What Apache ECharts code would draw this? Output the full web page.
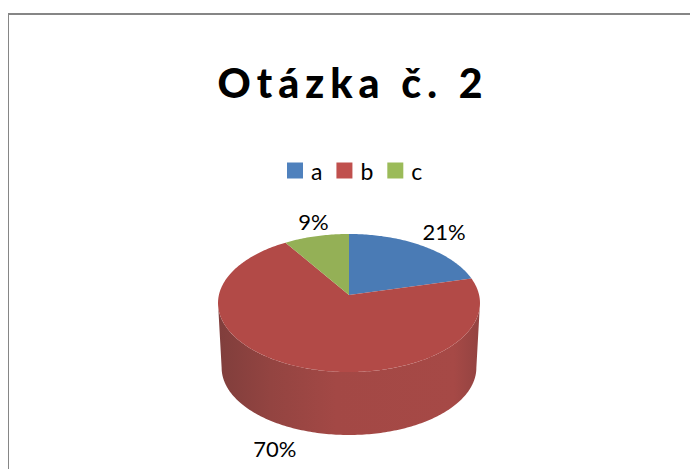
<!DOCTYPE html>
<html>
<head>
<meta charset="utf-8">
<title>Otázka č. 2</title>
<script src="https://cdn.jsdelivr.net/npm/echarts@6/dist/echarts.min.js"></script>
<style>
  html, body { margin: 0; padding: 0; background: #fff; }
  #chart { width: 690px; height: 469px; }
  /* the title is letter spaced in the original */
  #chart text[style*="900"] { letter-spacing: 6px; }
</style>
</head>
<body>
<div id="chart"></div>
<script>
const titleText = 'Otázka č. 2'
const categories = ['a', 'b', 'c']
const values = [21, 70, 9]

const colors = ['#4f81bd', '#c0504d', '#9bbb59']
const topColors = ['#4a7bb5', '#b24a47', '#94b056']
const fontName = 'Lato'

// 3D look of the old office pie: circle seen in perspective
const pie = { cx: 349, cy: 295, a: 130.1, b: 68.1, k: 0.116 }
const base = { cx: 349, cy: 360, a: 126.5, b: 66.3, k: 0.116 }
const labelOffset = [[22, -14], [-22, 19], [-3, -15]]

const total = values.reduce((s, v) => s + v, 0)
const sideFrom = Math.PI / 2 + Math.asin(pie.k)
const sideTo = 3 * Math.PI / 2 - Math.asin(pie.k)

function rim (e, t) {
  const u = Math.sin(t)
  const v = -Math.cos(t)
  const d = 1 - e.k * v
  return [e.cx + e.a * u / d, e.cy + e.b * v / d]
}

function arc (e, from, to) {
  const n = Math.max(2, Math.ceil(Math.abs(to - from) * 60))
  const pts = []
  for (let i = 0; i <= n; i++) {
    pts.push(rim(e, from + (to - from) * i / n))
  }
  return pts
}

function sliceRange (idx) {
  let sum = 0
  for (let i = 0; i < idx; i++) sum += values[i]
  return [sum / total * Math.PI * 2, (sum + values[idx]) / total * Math.PI * 2]
}

function renderSlice (idx, val) {
  const [from, to] = sliceRange(idx)
  const children = []
  // side wall, only the part that faces the viewer
  const sFrom = Math.max(from, sideFrom)
  const sTo = Math.min(to, sideTo)
  if (sTo > sFrom) {
    children.push({
      type: 'polygon',
      shape: { points: arc(pie, sFrom, sTo).concat(arc(base, sTo, sFrom)) },
      style: {
        fill: {
          type: 'linear',
          x: 0,
          y: 0,
          x2: 1,
          y2: 0,
          colorStops: [
            { offset: 0, color: '#803e3c' },
            { offset: 0.2, color: '#934441' },
            { offset: 0.45, color: '#a34845' },
            { offset: 0.9, color: '#a64946' },
            { offset: 1, color: '#934341' }
          ]
        }
      }
    })
  }
  children.push({
    type: 'polygon',
    shape: { points: [[pie.cx, pie.cy]].concat(arc(pie, from, to)) },
    style: { fill: topColors[idx] }
  })
  // label next to the slice middle
  const mid = (from + to) / 2
  const anchor = mid > sideFrom && mid < sideTo ? rim(base, mid) : rim(pie, mid)
  children.push({
    type: 'text',
    style: {
      text: val + '%',
      x: anchor[0] + labelOffset[idx][0],
      y: anchor[1] + labelOffset[idx][1],
      fill: '#000',
      font: '22px ' + fontName,
      align: 'center',
      verticalAlign: 'middle'
    }
  })
  return { type: 'group', children }
}

const chart = echarts.init(document.getElementById('chart'), null, { renderer: 'svg' })
chart.setOption({
  animation: false,
  backgroundColor: '#fff',
  title: {
    text: titleText,
    left: 348,
    top: 57,
    textAlign: 'center',
    textStyle: { color: '#000', fontFamily: fontName, fontWeight: 900, fontSize: 41 }
  },
  legend: {
    data: categories,
    left: 282,
    top: 154,
    icon: 'rect',
    itemWidth: 16,
    itemHeight: 16,
    itemGap: 14,
    selectedMode: false,
    textStyle: { color: '#000', fontFamily: fontName, fontSize: 23, padding: [0, 0, 0, 3] }
  },
  graphic: [
    { type: 'line', silent: true, shape: { x1: 8, y1: 14, x2: 690, y2: 14 }, style: { stroke: '#868686', lineWidth: 2 } },
    { type: 'line', silent: true, shape: { x1: 8.5, y1: 14, x2: 8.5, y2: 469 }, style: { stroke: '#868686', lineWidth: 1 } }
  ],
  series: categories.map((name, i) => ({
    type: 'custom',
    name,
    coordinateSystem: 'none',
    itemStyle: { color: colors[i] },
    data: [values[i]],
    renderItem: (params, api) => renderSlice(i, api.value(0))
  }))
})
</script>
</body>
</html>
